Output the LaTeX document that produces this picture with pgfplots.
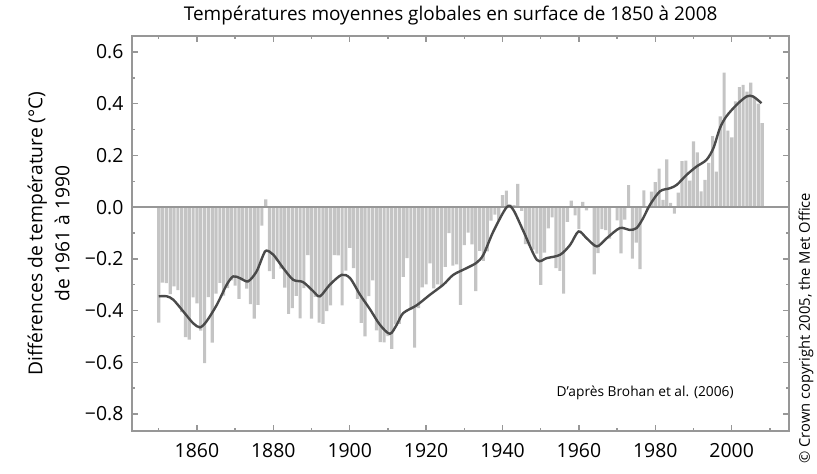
\documentclass[border=0pt]{standalone}
\usepackage{pgfplots}
\pgfplotsset{compat=1.18}
\usepackage{pgfplotstable}
\usepackage{fontspec}
\setmainfont{Open Sans}
\definecolor{bargray}{HTML}{C4C4C4}
\definecolor{linegray}{HTML}{4A4A4A}
\definecolor{framegray}{HTML}{979797}

\pgfplotstableread{
year val
1850 -0.447
1851 -0.292
1852 -0.294
1853 -0.337
1854 -0.307
1855 -0.321
1856 -0.406
1857 -0.503
1858 -0.513
1859 -0.349
1860 -0.372
1861 -0.478
1862 -0.603
1863 -0.348
1864 -0.524
1865 -0.335
1866 -0.293
1867 -0.342
1868 -0.313
1869 -0.283
1870 -0.304
1871 -0.355
1872 -0.284
1873 -0.315
1874 -0.375
1875 -0.431
1876 -0.378
1877 -0.072
1878 0.030
1879 -0.248
1880 -0.278
1881 -0.209
1882 -0.238
1883 -0.311
1884 -0.413
1885 -0.391
1886 -0.343
1887 -0.430
1888 -0.313
1889 -0.186
1890 -0.431
1891 -0.347
1892 -0.447
1893 -0.452
1894 -0.402
1895 -0.380
1896 -0.186
1897 -0.187
1898 -0.380
1899 -0.246
1900 -0.158
1901 -0.236
1902 -0.355
1903 -0.448
1904 -0.500
1905 -0.344
1906 -0.283
1907 -0.477
1908 -0.522
1909 -0.523
1910 -0.499
1911 -0.548
1912 -0.454
1913 -0.452
1914 -0.270
1915 -0.197
1916 -0.396
1917 -0.543
1918 -0.391
1919 -0.310
1920 -0.299
1921 -0.218
1922 -0.314
1923 -0.299
1924 -0.306
1925 -0.231
1926 -0.101
1927 -0.226
1928 -0.221
1929 -0.378
1930 -0.147
1931 -0.099
1932 -0.144
1933 -0.325
1934 -0.169
1935 -0.208
1936 -0.171
1937 -0.052
1938 -0.029
1939 -0.052
1940 0.046
1941 0.064
1942 0.010
1943 0.008
1944 0.090
1945 -0.014
1946 -0.143
1947 -0.147
1948 -0.164
1949 -0.180
1950 -0.301
1951 -0.176
1952 -0.082
1953 -0.040
1954 -0.236
1955 -0.247
1956 -0.335
1957 -0.057
1958 0.025
1959 -0.032
1960 -0.085
1961 0.020
1962 -0.013
1963 0.000
1964 -0.260
1965 -0.178
1966 -0.085
1967 -0.089
1968 -0.122
1969 0.002
1970 -0.051
1971 -0.179
1972 -0.048
1973 0.085
1974 -0.199
1975 -0.137
1976 -0.240
1977 0.065
1978 -0.009
1979 0.060
1980 0.097
1981 0.149
1982 0.028
1983 0.185
1984 0.016
1985 -0.025
1986 0.056
1987 0.178
1988 0.180
1989 0.103
1990 0.254
1991 0.212
1992 0.061
1993 0.105
1994 0.171
1995 0.275
1996 0.137
1997 0.351
1998 0.520
1999 0.296
2000 0.270
2001 0.409
2002 0.464
2003 0.473
2004 0.447
2005 0.482
2006 0.425
2007 0.400
2008 0.325
}\annual

\pgfplotstableread{
year val
1850.0 -0.345
1852.1 -0.345
1853.8 -0.358
1856.4 -0.403
1859.0 -0.449
1860.8 -0.465
1862.5 -0.442
1865.2 -0.378
1867.8 -0.300
1869.5 -0.268
1871.3 -0.275
1873.4 -0.287
1875.6 -0.249
1877.4 -0.184
1878.2 -0.168
1880.0 -0.184
1882.6 -0.236
1885.2 -0.281
1887.8 -0.290
1890.5 -0.326
1892.2 -0.345
1894.8 -0.300
1897.9 -0.262
1900.1 -0.275
1902.7 -0.339
1905.3 -0.395
1907.9 -0.455
1910.5 -0.490
1912.3 -0.455
1914.0 -0.410
1917.5 -0.380
1921.0 -0.339
1924.5 -0.300
1927.1 -0.262
1930.6 -0.236
1933.2 -0.215
1935.0 -0.184
1937.6 -0.094
1941.1 0.000
1942.8 -0.010
1945.5 -0.094
1949.0 -0.204
1951.6 -0.197
1955.1 -0.184
1957.7 -0.146
1959.9 -0.094
1962.0 -0.120
1964.7 -0.152
1967.3 -0.120
1970.7 -0.081
1973.3 -0.088
1975.1 -0.081
1976.8 -0.043
1978.6 0.009
1981.2 0.061
1983.8 0.073
1985.6 0.086
1988.2 0.125
1990.8 0.157
1993.4 0.183
1995.2 0.228
1996.9 0.305
1998.6 0.351
2001.3 0.396
2003.9 0.428
2005.6 0.428
2007.8 0.402
}\smooth

\begin{document}
\begin{tikzpicture}
\useasboundingbox (-132bp,-43bp) rectangle (685bp,431bp);
\begin{axis}[
  scale only axis,
  width=657bp, height=395bp,
  xmin=1843, xmax=2015,
  ymin=-0.866, ymax=0.662,
  axis line style={draw=framegray, line width=1.6bp},
  tick style={draw=framegray, line width=1.4bp},
  major tick length=6bp, minor tick length=3bp,
  xtick={1860,1880,...,2000},
  minor xtick={1850,1870,...,2010},
  ytick={-0.8,-0.6,-0.4,-0.2,0,0.2,0.4,0.6},
  yticklabels={{−0.8},{−0.6},{−0.4},{−0.2},{0.0},{0.2},{0.4},{0.6}},
  minor ytick={-0.7,-0.5,-0.3,-0.1,0.1,0.3,0.5},
  xticklabel={\pgfmathprintnumber[int detect,1000 sep={}]{\tick}},
  /pgf/number format/assume math mode=true,
  tick label style={font=\fontsize{19.5}{21}\selectfont, text=black},
  xticklabel style={yshift=-9bp},
  yticklabel style={xshift=-5bp},
  title={Températures moyennes globales en surface de 1850 à 2008},
  title style={font=\fontsize{19}{21}\selectfont, at={(axis description cs:0.485,1)}, anchor=south, yshift=1bp},
  ylabel={Différences de température (°C)\\de 1961 à 1990},
  ylabel style={font=\fontsize{19.3}{27}\selectfont, align=center, at={(axis description cs:-0.127,0.5)}, anchor=center},
  clip=false,
]
\addplot[ybar, bar width=0.82, fill=bargray, draw=none, bar shift=0pt] table[x=year,y=val]{\annual};
\draw[framegray, line width=2.2bp] (axis cs:1843,0) -- (axis cs:2015,0);
\addplot[linegray, line width=2.4bp, smooth, no marks] table[x=year,y=val]{\smooth};
\node[font=\fontsize{13.8}{16}\selectfont, anchor=center] at (axis description cs:0.781,0.096) {D’après Brohan et al. (2006)};
\node[font=\fontsize{14.8}{16}\selectfont, rotate=90, anchor=center] at (axis description cs:1.026,0.26) {© Crown copyright 2005, the Met Office};
\end{axis}
\end{tikzpicture}
\end{document}
